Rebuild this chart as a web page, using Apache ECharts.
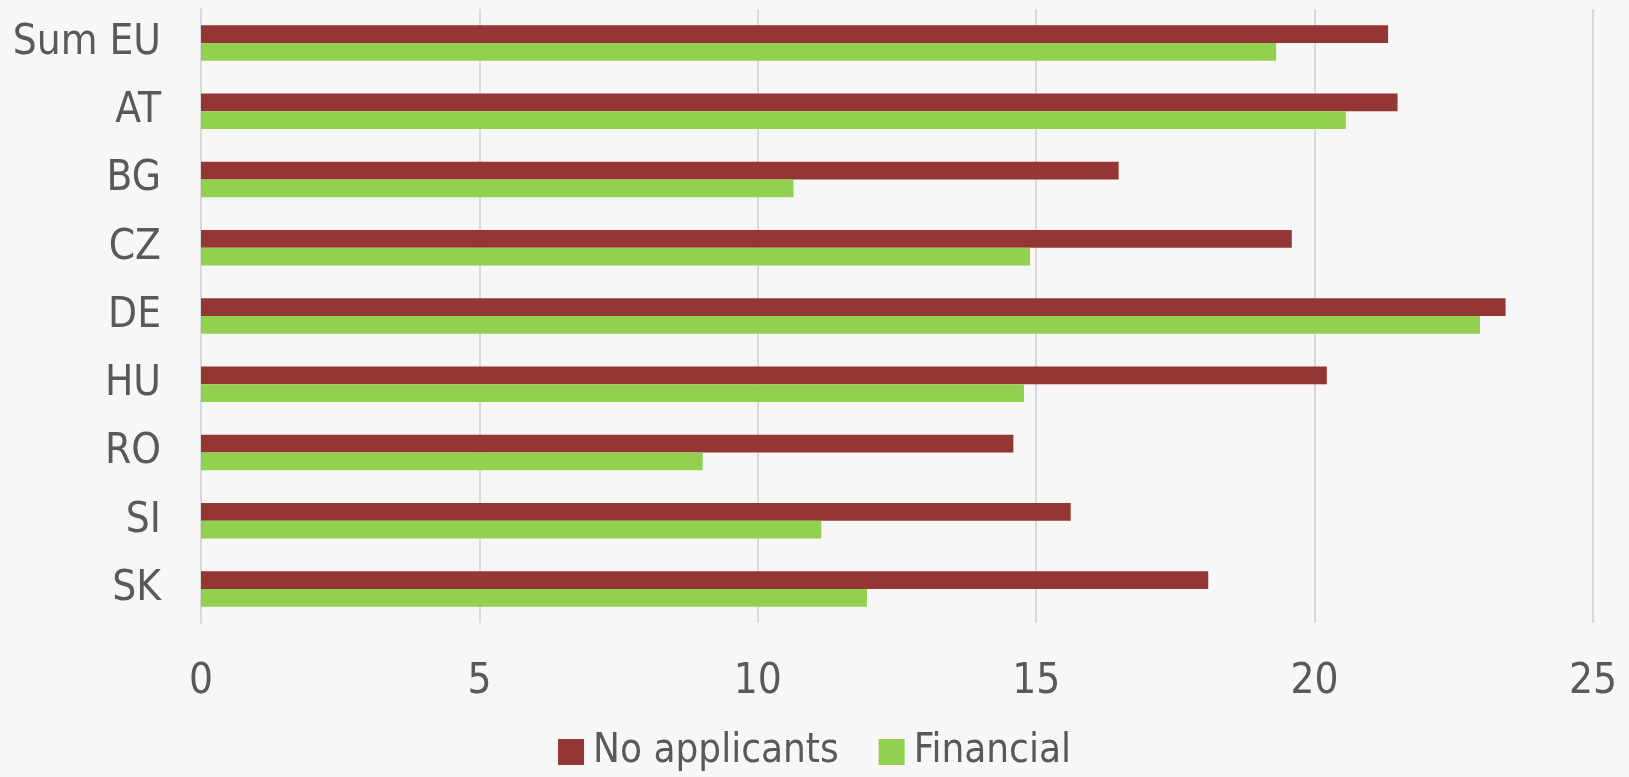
<!DOCTYPE html>
<html>
<head>
<meta charset="utf-8">
<script src="https://cdn.jsdelivr.net/npm/echarts@6/dist/echarts.min.js"></script>
<style>
  html, body { margin: 0; padding: 0; background: #f7f7f7; }
  #main { width: 1629px; height: 777px; }
</style>
</head>
<body>
<div id="main"></div>
<script>
// data
var categories = ['Sum EU', 'AT', 'BG', 'CZ', 'DE', 'HU', 'RO', 'SI', 'SK'];
var noApplicants = [21.32, 21.49, 16.48, 19.59, 23.43, 20.22, 14.59, 15.62, 18.09];
var financial = [19.31, 20.56, 10.64, 14.89, 22.97, 14.78, 9.01, 11.14, 11.96];
var seriesNames = ['No applicants', 'Financial'];

var fontFamily = '"DejaVu Sans Condensed", "DejaVu Sans", sans-serif';
var textColor = '#595959';

var myChart = echarts.init(document.getElementById('main'));

var option = {
    backgroundColor: '#f7f7f7',
    textStyle: { fontFamily: fontFamily },
    legend: {
        data: seriesNames,
        bottom: 0,
        left: 'center',
        itemWidth: 26,
        itemHeight: 26,
        itemGap: 40,
        icon: 'rect',
        textStyle: { fontSize: 40, color: textColor, fontFamily: fontFamily, padding: [0, 0, 0, 4] }
    },
    grid: {
        left: 201,
        right: 36,
        top: 9,
        bottom: 154
    },
    xAxis: {
        type: 'value',
        min: 0,
        max: 25,
        interval: 5,
        axisLine: { show: false },
        axisTick: { show: false },
        splitLine: { lineStyle: { color: '#d9d9d9', width: 2 } },
        axisLabel: { fontSize: 42, color: textColor, margin: 38, fontFamily: fontFamily }
    },
    yAxis: {
        type: 'category',
        data: categories,
        inverse: true,
        axisLine: { lineStyle: { color: '#d9d9d9', width: 2 } },
        axisTick: { show: false },
        axisLabel: { fontSize: 42, color: textColor, margin: 40, fontFamily: fontFamily }
    },
    series: [{
        name: seriesNames[0],
        type: 'bar',
        data: noApplicants,
        barGap: 0,
        barCategoryGap: '48%',
        itemStyle: { color: '#943634' }
    }, {
        name: seriesNames[1],
        type: 'bar',
        data: financial,
        barGap: 0,
        barCategoryGap: '48%',
        itemStyle: { color: '#92d050' }
    }]
};

myChart.setOption(option);
</script>
</body>
</html>
